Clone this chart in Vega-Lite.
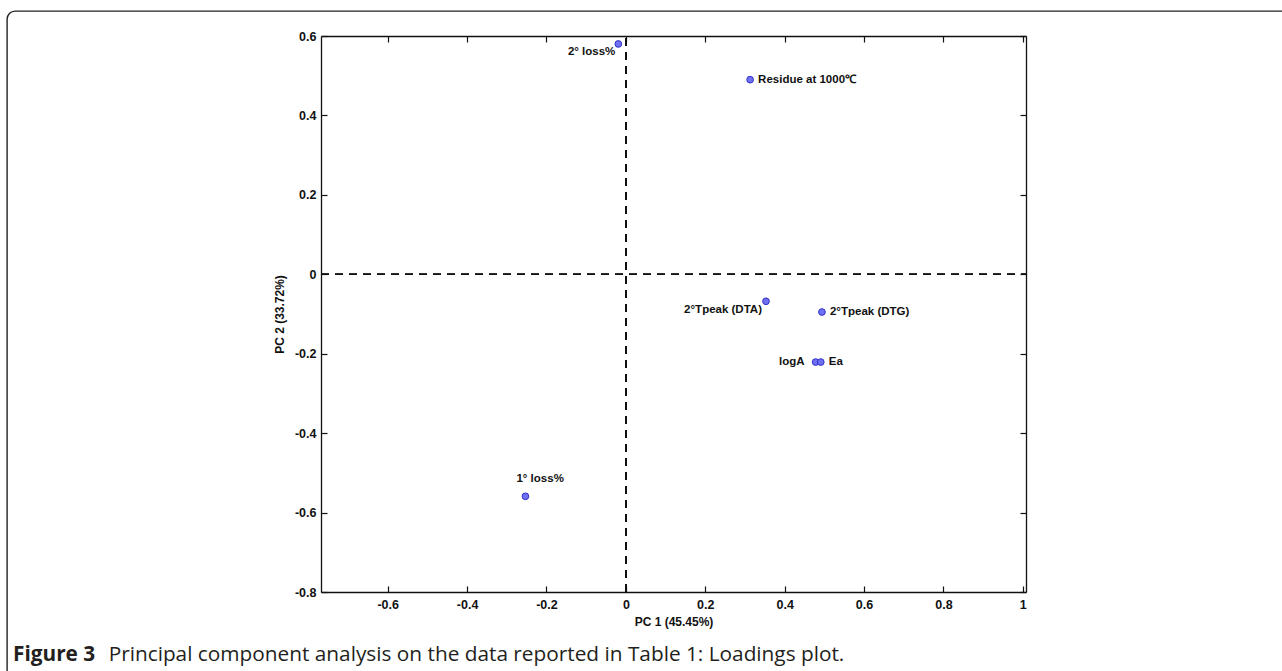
{
  "$schema": "https://vega.github.io/schema/vega-lite/v6.json",
  "width": 1340,
  "height": 700,
  "autosize": "none",
  "padding": {"left": 7, "top": 11, "right": -65, "bottom": -40},
  "background": "white",
  "title": {
    "text": "Figure 3",
    "subtitle": "\u200b\u2003\u2003\u2003\u2003\u2002\u200aPrincipal component analysis on the data reported in Table 1: Loadings plot.",
    "orient": "bottom",
    "anchor": "start",
    "frame": "group",
    "offset": -66,
    "dx": 6,
    "font": "Open Sans",
    "fontSize": 20.8,
    "fontWeight": "bold",
    "color": "#231f20",
    "subtitleFont": "Open Sans",
    "subtitleFontSize": 20.8,
    "subtitleFontWeight": "normal",
    "subtitleColor": "#231f20",
    "subtitlePadding": -20.8
  },
  "config": {
    "view": {"stroke": "#222222", "strokeWidth": 1.4, "cornerRadius": 8},
    "axis": {
      "grid": false,
      "domainColor": "#111111",
      "domainWidth": 1.3,
      "tickColor": "#111111",
      "tickWidth": 1.2,
      "labelColor": "#111111",
      "labelFont": "Liberation Sans",
      "labelFontSize": 12.5,
      "labelFontWeight": "bold",
      "labelFlush": false,
      "labelOverlap": false,
      "titleFont": "Liberation Sans",
      "titleFontSize": 12,
      "titleFontWeight": "bold",
      "titleColor": "#111111"
    }
  },
  "data": {
    "values": [
      {"label": "2° loss%", "pc1": -0.019, "pc2": 0.58},
      {"label": "Residue at 1000℃", "pc1": 0.313, "pc2": 0.49},
      {"label": "2°Tpeak (DTA)", "pc1": 0.353, "pc2": -0.068},
      {"label": "2°Tpeak (DTG)", "pc1": 0.494, "pc2": -0.095},
      {"label": "logA", "pc1": 0.478, "pc2": -0.221},
      {"label": "Ea", "pc1": 0.491, "pc2": -0.221},
      {"label": "1° loss%", "pc1": -0.253, "pc2": -0.559}
    ]
  },
  "resolve": {"axis": {"x": "independent", "y": "independent"}},
  "layer": [
    {
      "mark": {"type": "rule", "color": "#111111", "strokeWidth": 1.3, "strokeDash": [8, 6]},
      "encoding": {
        "x": {
          "datum": 0,
          "type": "quantitative",
          "scale": {"domain": [-0.768, 1.008], "range": [314, 1019], "nice": false, "zero": false},
          "axis": {"orient": "top", "offset": -25, "values": [-0.6, -0.4, -0.2, 0, 0.2, 0.4, 0.6, 0.8, 1], "tickSize": -6, "labels": false, "title": null}
        },
        "y": {
          "datum": -0.8,
          "type": "quantitative",
          "scale": {"domain": [-0.8, 0.6], "range": [581, 25], "nice": false, "zero": false},
          "axis": null
        },
        "y2": {"datum": 0.6}
      }
    },
    {
      "mark": {"type": "rule", "color": "#111111", "strokeWidth": 1.3, "strokeDash": [8, 6]},
      "encoding": {
        "y": {
          "datum": 0,
          "type": "quantitative",
          "scale": {"domain": [-0.8, 0.6], "range": [581, 25], "nice": false, "zero": false},
          "axis": {"orient": "right", "offset": -321, "values": [-0.8, -0.6, -0.4, -0.2, 0, 0.2, 0.4, 0.6], "tickSize": -6, "labels": false, "title": null}
        },
        "x": {
          "datum": -0.768,
          "type": "quantitative",
          "scale": {"domain": [-0.768, 1.008], "range": [314, 1019], "nice": false, "zero": false},
          "axis": null
        },
        "x2": {"datum": 1.008}
      }
    },
    {
      "mark": {"type": "circle", "size": 45, "fill": "#7070f2", "stroke": "#3030c8", "strokeWidth": 1, "opacity": 1},
      "encoding": {
        "x": {
          "field": "pc1",
          "type": "quantitative",
          "scale": {"domain": [-0.768, 1.008], "range": [314, 1019], "nice": false, "zero": false},
          "axis": {
            "orient": "bottom",
            "offset": -119,
            "values": [-0.6, -0.4, -0.2, 0, 0.2, 0.4, 0.6, 0.8, 1],
            "tickSize": -6,
            "labelPadding": 12,
            "format": "~g",
            "labelExpr": "replace(datum.label, '−', '-')",
            "title": "PC 1 (45.45%)",
            "titlePadding": 6
          }
        },
        "y": {
          "field": "pc2",
          "type": "quantitative",
          "scale": {"domain": [-0.8, 0.6], "range": [581, 25], "nice": false, "zero": false},
          "axis": {
            "orient": "left",
            "offset": -314,
            "values": [-0.8, -0.6, -0.4, -0.2, 0, 0.2, 0.4, 0.6],
            "tickSize": -6,
            "labelPadding": 11,
            "format": "~g",
            "labelExpr": "replace(datum.label, '−', '-')",
            "title": "PC 2 (33.72%)",
            "titlePadding": 8
          }
        }
      }
    },
    {
      "transform": [{"filter": {"field": "label", "oneOf": ["Residue at 1000℃", "2°Tpeak (DTG)", "Ea"]}}],
      "mark": {"type": "text", "align": "left", "baseline": "middle", "dx": 8, "font": "Liberation Sans", "fontSize": 11.5, "fontWeight": "bold", "color": "#111111"},
      "encoding": {
        "x": {"field": "pc1", "type": "quantitative", "scale": {"domain": [-0.768, 1.008], "range": [314, 1019], "nice": false, "zero": false}, "axis": null},
        "y": {"field": "pc2", "type": "quantitative", "scale": {"domain": [-0.8, 0.6], "range": [581, 25], "nice": false, "zero": false}, "axis": null},
        "text": {"field": "label"}
      }
    },
    {
      "transform": [{"filter": {"field": "label", "equal": "logA"}}],
      "mark": {"type": "text", "align": "right", "baseline": "middle", "dx": -11, "font": "Liberation Sans", "fontSize": 11.5, "fontWeight": "bold", "color": "#111111"},
      "encoding": {
        "x": {"field": "pc1", "type": "quantitative", "scale": {"domain": [-0.768, 1.008], "range": [314, 1019], "nice": false, "zero": false}, "axis": null},
        "y": {"field": "pc2", "type": "quantitative", "scale": {"domain": [-0.8, 0.6], "range": [581, 25], "nice": false, "zero": false}, "axis": null},
        "text": {"field": "label"}
      }
    },
    {
      "transform": [{"filter": {"field": "label", "equal": "2°Tpeak (DTA)"}}],
      "mark": {"type": "text", "align": "right", "baseline": "middle", "dx": -4, "dy": 9, "font": "Liberation Sans", "fontSize": 11.5, "fontWeight": "bold", "color": "#111111"},
      "encoding": {
        "x": {"field": "pc1", "type": "quantitative", "scale": {"domain": [-0.768, 1.008], "range": [314, 1019], "nice": false, "zero": false}, "axis": null},
        "y": {"field": "pc2", "type": "quantitative", "scale": {"domain": [-0.8, 0.6], "range": [581, 25], "nice": false, "zero": false}, "axis": null},
        "text": {"field": "label"}
      }
    },
    {
      "transform": [{"filter": {"field": "label", "equal": "2° loss%"}}],
      "mark": {"type": "text", "align": "right", "baseline": "middle", "dx": -3, "dy": 8, "font": "Liberation Sans", "fontSize": 11.5, "fontWeight": "bold", "color": "#111111"},
      "encoding": {
        "x": {"field": "pc1", "type": "quantitative", "scale": {"domain": [-0.768, 1.008], "range": [314, 1019], "nice": false, "zero": false}, "axis": null},
        "y": {"field": "pc2", "type": "quantitative", "scale": {"domain": [-0.8, 0.6], "range": [581, 25], "nice": false, "zero": false}, "axis": null},
        "text": {"field": "label"}
      }
    },
    {
      "transform": [{"filter": {"field": "label", "equal": "1° loss%"}}],
      "mark": {"type": "text", "align": "left", "baseline": "middle", "dx": -9, "dy": -17, "font": "Liberation Sans", "fontSize": 11.5, "fontWeight": "bold", "color": "#111111"},
      "encoding": {
        "x": {"field": "pc1", "type": "quantitative", "scale": {"domain": [-0.768, 1.008], "range": [314, 1019], "nice": false, "zero": false}, "axis": null},
        "y": {"field": "pc2", "type": "quantitative", "scale": {"domain": [-0.8, 0.6], "range": [581, 25], "nice": false, "zero": false}, "axis": null},
        "text": {"field": "label"}
      }
    }
  ]
}
